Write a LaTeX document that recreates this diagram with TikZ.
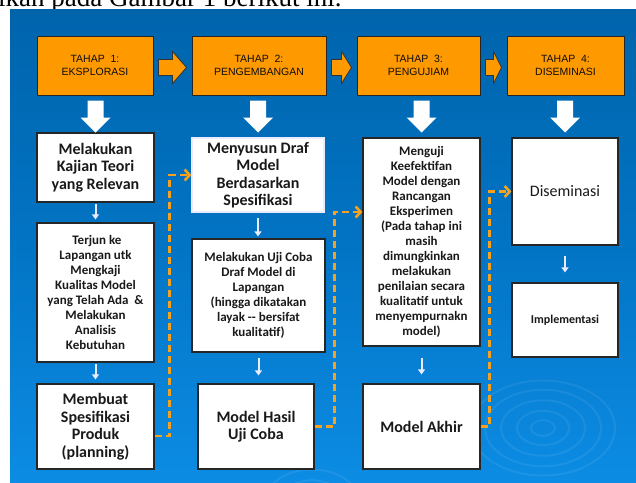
\documentclass[tikz,border=0pt]{standalone}
\usepackage{fontspec}
\setmainfont{Liberation Serif}
\newfontfamily\calib{Carlito}
\newfontfamily\arialf{Liberation Sans}
\usetikzlibrary{arrows.meta,calc}
\definecolor{bgtop}{RGB}{0,100,172}
\definecolor{bgmid}{RGB}{2,116,196}
\definecolor{bgbot}{RGB}{12,140,228}
\definecolor{hdrorange}{RGB}{255,153,0}
\definecolor{dashorange}{RGB}{246,162,32}

\begin{document}
\begin{tikzpicture}[
  x=1pt, y=-1pt,
  hdr/.style={draw=black!85, line width=1pt, fill=hdrorange, minimum height=59pt,
    align=center, inner sep=1pt, text=black!95, font=\arialf\fontsize{10.5}{13.5}\selectfont},
  st/.style={draw=black!85, line width=1.2pt, fill=white, align=center,
    inner sep=2pt, text=black!90},
  big/.style={st, font=\calib\bfseries\fontsize{16}{17.5}\selectfont},
  small/.style={st, font=\calib\bfseries\fontsize{13}{15}\selectfont},
  blk/.style={draw=black!80, line width=0.8pt, fill=hdrorange},
  down/.style={fill=white},
  ripple/.style={draw=white, opacity=0.07, line width=2pt},
  e/.style={-{Triangle[length=5pt,width=7pt]}, line width=2pt, draw=white!92!blue},
  dsh/.style={-{Straight Barb[length=5pt,width=11pt]}, line width=2.6pt,
    draw=dashorange, dash pattern=on 7pt off 4pt},
]
\useasboundingbox (0,0) rectangle (636,482);
\fill[white] (0,0) rectangle (636,482);
\node[anchor=base west, inner sep=0, font=\fontsize{27}{30}\selectfont] (caption) at (-2,6)
  {ikan pada Gambar 1 berikut ini.};

% background
\fill[top color=bgtop, bottom color=bgbot, middle color=bgmid] (10,9) rectangle (636,482);
\begin{scope}
  \clip (10,9) rectangle (636,482);
  \foreach \r in {12,26,42,58,72}
    \draw[ripple] (543,428) ellipse[x radius=\r, y radius=0.66*\r];
  \foreach \r in {14,30,46}
    \draw[ripple] (312,500) ellipse[x radius=\r, y radius=0.66*\r];
\end{scope}

% tahap
\node[hdr, minimum width=116pt] (tahap1) at (95,65.5) {TAHAP\ \ 1:\\EKSPLORASI};
\node[hdr, minimum width=134pt] (tahap2) at (259,65.5) {TAHAP\ \ 2:\\PENGEMBANGAN};
\node[hdr, minimum width=123pt] (tahap3) at (418.5,65.5) {TAHAP\ \ 3:\\PENGUJIAM};
\node[hdr, minimum width=117pt] (tahap4) at (565.5,65.5) {TAHAP\ \ 4:\\DISEMINASI};

% kolom 1
\node[big, minimum width=117pt, minimum height=69pt] (kajian) at (95.5,167.5)
  {Melakukan\\Kajian Teori\\yang Relevan};
\node[small, minimum width=117pt, minimum height=139pt] (terjun) at (95.5,292.5)
  {\ Terjun ke\\Lapangan utk\\Mengkaji\\Kualitas Model\\yang Telah Ada \ \&\\Melakukan\\Analisis\\Kebutuhan};
\node[big, minimum width=117pt, minimum height=85pt] (spesifikasi) at (95.5,426.5)
  {Membuat\\Spesifikasi\\Produk\\(planning)};

% kolom 2
\node[big, draw=blue!8, minimum width=132pt, minimum height=74pt] (draf) at (258,175)
  {Menyusun Draf\\Model\\Berdasarkan\\Spesifikasi};
\node[small, minimum width=133pt, minimum height=113pt] (ujicoba) at (258.5,295.5)
  {Melakukan Uji Coba\\Draf Model di\\Lapangan\\(hingga dikatakan\\layak -- bersifat\\kualitatif)};
\node[big, minimum width=116pt, minimum height=85pt] (hasil) at (256,426.5)
  {Model Hasil\\Uji Coba};

% kolom 3
\node[small, minimum width=117pt, minimum height=208pt] (menguji) at (421.5,242)
  {Menguji\\Keefektifan\\Model dengan\\Rancangan\\Eksperimen\\(Pada tahap ini\\masih\\dimungkinkan\\melakukan\\penilaian secara\\kualitatif untuk\\menyempurnakn\\model)};
\node[big, minimum width=117pt, minimum height=85pt] (akhir) at (421.5,426.5)
  {Model Akhir};

% kolom 4
\node[st, font=\calib\fontsize{16}{18}\selectfont, minimum width=106pt, minimum height=107pt]
  (diseminasi) at (565,191.5) {Diseminasi};
\node[st, font=\calib\bfseries\fontsize{12}{14}\selectfont, minimum width=106pt, minimum height=74pt]
  (implementasi) at (565,320) {Implementasi};

% panah antar tahap
\foreach \a/\b in {tahap1/tahap2,tahap2/tahap3,tahap3/tahap4}{
  \coordinate (s) at ([xshift=5pt]\a.east);
  \coordinate (t) at ([xshift=-5pt]\b.west);
  \coordinate (m) at ($(s)!0.5!(t)+(0,2)$);
  \coordinate (s) at ($(s)+(0,2)$);
  \coordinate (t) at ($(t)+(0,2)$);
  \draw[blk] ($(s)+(0,-8)$) -- ($(m)+(0,-8)$) -- ($(m)+(0,-16)$) -- (t)
    -- ($(m)+(0,16)$) -- ($(m)+(0,8)$) -- ($(s)+(0,8)$) -- cycle;
}

% panah putih besar
\foreach \h/\b in {tahap1/kajian,tahap2/draf,tahap3/menguji,tahap4/diseminasi}{
  \coordinate (s) at ($(\b.north |- \h.south)+(0,5)$);
  \coordinate (t) at ($(s)+(0,32)$);
  \coordinate (m) at ($(s)+(0,17)$);
  \fill[down] ($(s)+(-8,0)$) -- ($(m)+(-8,0)$) -- ($(m)+(-15,0)$) -- (t)
    -- ($(m)+(15,0)$) -- ($(m)+(8,0)$) -- ($(s)+(8,0)$) -- cycle;
}

% panah kecil
\draw[e, shorten <=1pt, shorten >=3pt] (kajian) -- (terjun);
\draw[e, shorten <=1pt, shorten >=4pt] (terjun) -- (spesifikasi);
\draw[e, shorten <=5pt, shorten >=2pt] (draf.south) -- (draf.south |- ujicoba.north);
\draw[e, shorten <=5pt, shorten >=8pt] (ujicoba.south) -- (ujicoba.south |- hasil.north);
\draw[e, shorten <=11pt, shorten >=9pt] (menguji) -- (akhir);
\draw[e, shorten <=10pt, shorten >=10pt] (diseminasi) -- (implementasi);

% garis putus-putus
\draw[dsh] ($(spesifikasi.east)+(0,9.5)$) -| ($(draf.west)+(-22,0)$) -- (draf.west);
\draw[dsh] (hasil.east) -| ($(menguji.west)+(-28,-30)$) -- ($(menguji.west)+(0,-30)$);
\draw[dsh] (akhir.east) -| ($(diseminasi.west)+(-22,0)$) -- (diseminasi.west);
\end{tikzpicture}
\end{document}
